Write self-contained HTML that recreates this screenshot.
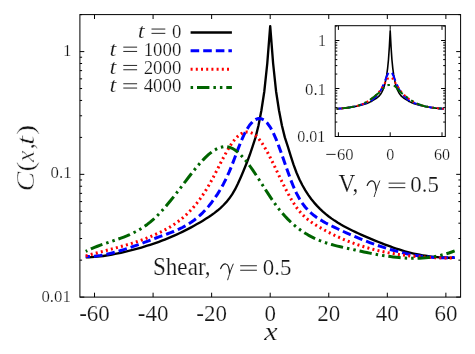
<!DOCTYPE html>
<html><head><meta charset="utf-8"><title>C(x,t)</title>
<style>
html,body{margin:0;padding:0;background:#fff;}
body{width:475px;height:354px;overflow:hidden;font-family:"Liberation Serif",serif;}
svg{display:block;will-change:transform}
text{font-family:"Liberation Serif",serif;fill:#161616;stroke:#fff;stroke-width:0.2px;}
.thin text{stroke-width:0.45px}
.i{font-style:italic}
</style></head><body>
<svg width="475" height="354" viewBox="0 0 475 354">
<rect width="475" height="354" fill="#fff"/>
<!-- main curves -->
<g fill="none" stroke-linejoin="round" stroke-linecap="butt" stroke-width="3">
<path d="M85.74,257.45 L88.66,257.34 L91.59,257.17 L94.52,256.95 L97.45,256.67 L100.38,256.34 L103.30,255.96 L106.23,255.53 L109.16,255.06 L112.09,254.54 L115.02,253.97 L117.94,253.38 L120.87,252.74 L123.80,252.08 L126.73,251.39 L129.66,250.68 L132.58,249.93 L135.51,249.16 L138.44,248.35 L141.37,247.51 L144.30,246.64 L147.22,245.74 L150.15,244.80 L153.08,243.83 L156.01,242.82 L158.94,241.77 L161.86,240.68 L164.79,239.55 L167.72,238.38 L170.65,237.16 L173.58,235.90 L176.50,234.60 L179.43,233.24 L182.36,231.84 L185.29,230.40 L188.22,228.90 L191.14,227.35 L194.07,225.75 L197.00,224.10 L199.93,222.40 L202.86,220.64 L205.78,218.83 L208.71,216.94 L211.64,214.95 L214.57,212.83 L217.50,210.54 L220.42,208.04 L223.35,205.27 L226.28,202.15 L229.21,198.57 L232.14,194.39 L235.06,189.44 L237.99,183.54 L240.92,176.97 L243.85,170.07 L246.78,162.81 L249.70,155.03 L252.63,146.49 L255.56,137.40 L258.49,125.50 L261.42,110.20 L264.34,91.20 L267.27,63.50 L270.20,26.20 L273.13,63.50 L276.06,91.20 L278.98,110.20 L281.91,125.50 L284.84,137.40 L287.77,146.26 L290.70,155.79 L293.62,164.92 L296.55,172.76 L299.48,179.46 L302.41,185.28 L305.34,190.39 L308.26,194.92 L311.19,198.96 L314.12,202.60 L317.05,205.90 L319.98,208.90 L322.90,211.64 L325.83,214.15 L328.76,216.47 L331.69,218.62 L334.62,220.61 L337.54,222.48 L340.47,224.24 L343.40,225.91 L346.33,227.50 L349.26,229.03 L352.18,230.49 L355.11,231.90 L358.04,233.27 L360.97,234.60 L363.90,235.89 L366.82,237.16 L369.75,238.39 L372.68,239.61 L375.61,240.80 L378.54,241.98 L381.46,243.14 L384.39,244.28 L387.32,245.39 L390.25,246.47 L393.18,247.52 L396.10,248.52 L399.03,249.48 L401.96,250.40 L404.89,251.26 L407.82,252.07 L410.74,252.82 L413.67,253.52 L416.60,254.17 L419.53,254.76 L422.46,255.29 L425.38,255.77 L428.31,256.19 L431.24,256.55 L434.17,256.87 L437.10,257.13 L440.02,257.35 L442.95,257.52 L445.88,257.65 L448.81,257.73 L451.74,257.78 L454.66,257.80" stroke="#000" stroke-width="2.35"/>
<path d="M85.74,256.62 L88.66,256.56 L91.59,256.39 L94.52,256.14 L97.45,255.80 L100.38,255.38 L103.30,254.88 L106.23,254.30 L109.16,253.66 L112.09,252.96 L115.02,252.20 L117.94,251.39 L120.87,250.52 L123.80,249.62 L126.73,248.67 L129.66,247.68 L132.58,246.67 L135.51,245.63 L138.44,244.57 L141.37,243.50 L144.30,242.41 L147.22,241.31 L150.15,240.22 L153.08,239.12 L156.01,238.03 L158.94,236.96 L161.86,235.89 L164.79,234.84 L167.72,233.77 L170.65,232.66 L173.58,231.50 L176.50,230.27 L179.43,228.94 L182.36,227.50 L185.29,225.92 L188.22,224.19 L191.14,222.29 L194.07,220.20 L197.00,217.89 L199.93,215.35 L202.86,212.55 L205.78,209.48 L208.71,206.12 L211.64,202.45 L214.57,198.45 L217.50,194.09 L220.42,189.35 L223.35,184.14 L226.28,178.36 L229.21,171.89 L232.14,164.67 L235.06,156.95 L237.99,149.15 L240.92,141.72 L243.85,135.08 L246.78,129.49 L249.70,125.02 L252.63,121.68 L255.56,119.51 L258.49,118.53 L261.42,118.77 L264.34,120.26 L267.27,123.03 L270.20,127.10 L273.13,132.50 L276.06,139.13 L278.98,146.66 L281.91,154.79 L284.84,163.21 L287.77,171.59 L290.70,179.62 L293.62,186.98 L296.55,193.39 L299.48,198.82 L302.41,203.40 L305.34,207.24 L308.26,210.47 L311.19,213.20 L314.12,215.56 L317.05,217.66 L319.98,219.58 L322.90,221.34 L325.83,222.98 L328.76,224.51 L331.69,225.97 L334.62,227.38 L337.54,228.77 L340.47,230.14 L343.40,231.49 L346.33,232.82 L349.26,234.12 L352.18,235.41 L355.11,236.66 L358.04,237.89 L360.97,239.10 L363.90,240.28 L366.82,241.43 L369.75,242.54 L372.68,243.63 L375.61,244.69 L378.54,245.71 L381.46,246.70 L384.39,247.66 L387.32,248.58 L390.25,249.46 L393.18,250.30 L396.10,251.11 L399.03,251.88 L401.96,252.60 L404.89,253.28 L407.82,253.92 L410.74,254.52 L413.67,255.07 L416.60,255.57 L419.53,256.03 L422.46,256.44 L425.38,256.80 L428.31,257.10 L431.24,257.36 L434.17,257.57 L437.10,257.72 L440.02,257.82 L442.95,257.86 L445.88,257.84 L448.81,257.77 L451.74,257.64 L454.66,257.45" stroke="#0000ff" stroke-dasharray="8.6 4" stroke-dashoffset="4.38"/>
<path d="M85.74,255.94 L88.66,255.11 L91.59,254.30 L94.52,253.51 L97.45,252.73 L100.38,251.96 L103.30,251.20 L106.23,250.44 L109.16,249.68 L112.09,248.91 L115.02,248.13 L117.94,247.34 L120.87,246.53 L123.80,245.71 L126.73,244.86 L129.66,243.98 L132.58,243.07 L135.51,242.12 L138.44,241.14 L141.37,240.11 L144.30,239.04 L147.22,237.92 L150.15,236.75 L153.08,235.51 L156.01,234.22 L158.94,232.87 L161.86,231.44 L164.79,229.93 L167.72,228.33 L170.65,226.61 L173.58,224.75 L176.50,222.74 L179.43,220.57 L182.36,218.20 L185.29,215.63 L188.22,212.84 L191.14,209.81 L194.07,206.52 L197.00,202.95 L199.93,199.09 L202.86,194.91 L205.78,190.41 L208.71,185.56 L211.64,180.34 L214.57,174.81 L217.50,169.11 L220.42,163.37 L223.35,157.73 L226.28,152.35 L229.21,147.35 L232.14,142.90 L235.06,139.12 L237.99,136.11 L240.92,133.89 L243.85,132.48 L246.78,131.91 L249.70,132.20 L252.63,133.37 L255.56,135.43 L258.49,138.41 L261.42,142.23 L264.34,146.78 L267.27,151.90 L270.20,157.48 L273.13,163.38 L276.06,169.45 L278.98,175.58 L281.91,181.62 L284.84,187.49 L287.77,193.09 L290.70,198.34 L293.62,203.18 L296.55,207.52 L299.48,211.30 L302.41,214.57 L305.34,217.39 L308.26,219.85 L311.19,222.02 L314.12,223.97 L317.05,225.78 L319.98,227.52 L322.90,229.19 L325.83,230.81 L328.76,232.36 L331.69,233.86 L334.62,235.29 L337.54,236.68 L340.47,238.00 L343.40,239.27 L346.33,240.49 L349.26,241.65 L352.18,242.77 L355.11,243.83 L358.04,244.85 L360.97,245.81 L363.90,246.73 L366.82,247.61 L369.75,248.44 L372.68,249.22 L375.61,249.97 L378.54,250.67 L381.46,251.33 L384.39,251.96 L387.32,252.54 L390.25,253.09 L393.18,253.60 L396.10,254.08 L399.03,254.52 L401.96,254.94 L404.89,255.32 L407.82,255.67 L410.74,255.99 L413.67,256.28 L416.60,256.54 L419.53,256.78 L422.46,256.99 L425.38,257.18 L428.31,257.35 L431.24,257.50 L434.17,257.62 L437.10,257.73 L440.02,257.82 L442.95,257.88 L445.88,257.94 L448.81,257.98 L451.74,258.00 L454.66,258.01" stroke="#ff0000" stroke-dasharray="2 3.2"/>
<path d="M85.74,251.39 L88.66,249.95 L91.59,248.62 L94.52,247.38 L97.45,246.23 L100.38,245.15 L103.30,244.11 L106.23,243.12 L109.16,242.14 L112.09,241.17 L115.02,240.19 L117.94,239.19 L120.87,238.14 L123.80,237.04 L126.73,235.87 L129.66,234.62 L132.58,233.26 L135.51,231.78 L138.44,230.18 L141.37,228.42 L144.30,226.51 L147.22,224.41 L150.15,222.12 L153.08,219.63 L156.01,216.91 L158.94,213.97 L161.86,210.84 L164.79,207.53 L167.72,204.08 L170.65,200.50 L173.58,196.82 L176.50,193.07 L179.43,189.27 L182.36,185.43 L185.29,181.60 L188.22,177.78 L191.14,174.01 L194.07,170.31 L197.00,166.73 L199.93,163.30 L202.86,160.08 L205.78,157.09 L208.71,154.40 L211.64,152.03 L214.57,150.04 L217.50,148.46 L220.42,147.34 L223.35,146.72 L226.28,146.65 L229.21,147.17 L232.14,148.30 L235.06,150.05 L237.99,152.33 L240.92,155.10 L243.85,158.30 L246.78,161.87 L249.70,165.75 L252.63,169.89 L255.56,174.23 L258.49,178.71 L261.42,183.27 L264.34,187.86 L267.27,192.42 L270.20,196.88 L273.13,201.20 L276.06,205.30 L278.98,209.15 L281.91,212.73 L284.84,216.05 L287.77,219.14 L290.70,222.00 L293.62,224.65 L296.55,227.09 L299.48,229.35 L302.41,231.42 L305.34,233.32 L308.26,235.07 L311.19,236.66 L314.12,238.12 L317.05,239.45 L319.98,240.66 L322.90,241.77 L325.83,242.78 L328.76,243.71 L331.69,244.56 L334.62,245.35 L337.54,246.09 L340.47,246.79 L343.40,247.46 L346.33,248.11 L349.26,248.75 L352.18,249.39 L355.11,250.02 L358.04,250.66 L360.97,251.29 L363.90,251.91 L366.82,252.52 L369.75,253.11 L372.68,253.69 L375.61,254.24 L378.54,254.77 L381.46,255.28 L384.39,255.76 L387.32,256.20 L390.25,256.61 L393.18,256.98 L396.10,257.32 L399.03,257.60 L401.96,257.85 L404.89,258.04 L407.82,258.18 L410.74,258.26 L413.67,258.29 L416.60,258.25 L419.53,258.16 L422.46,257.99 L425.38,257.76 L428.31,257.45 L431.24,257.07 L434.17,256.61 L437.10,256.06 L440.02,255.44 L442.95,254.72 L445.88,253.92 L448.81,253.03 L451.74,252.03 L454.66,250.94" stroke="#006400" stroke-dasharray="12.4 4 2.5 4 2.5 3.9" stroke-dashoffset="23.64"/>
</g>
<!-- main frame + ticks -->
<g fill="none" stroke="#000" stroke-width="1">
<rect x="79.9" y="14.6" width="380.70" height="282.50"/>
<path d="M94.52,297.1 v-4.4 M94.52,14.6 v4.4 M153.08,297.1 v-4.4 M153.08,14.6 v4.4 M211.64,297.1 v-4.4 M211.64,14.6 v4.4 M270.20,297.1 v-4.4 M270.20,14.6 v4.4 M328.76,297.1 v-4.4 M328.76,14.6 v4.4 M387.32,297.1 v-4.4 M387.32,14.6 v4.4 M445.88,297.1 v-4.4 M445.88,14.6 v4.4 M79.9,297.10 h4.4 M460.6,297.10 h-4.4 M79.9,260.15 h2.2 M460.6,260.15 h-2.2 M79.9,238.53 h2.2 M460.6,238.53 h-2.2 M79.9,223.20 h2.2 M460.6,223.20 h-2.2 M79.9,211.30 h2.2 M460.6,211.30 h-2.2 M79.9,201.58 h2.2 M460.6,201.58 h-2.2 M79.9,193.36 h2.2 M460.6,193.36 h-2.2 M79.9,186.25 h2.2 M460.6,186.25 h-2.2 M79.9,179.97 h2.2 M460.6,179.97 h-2.2 M79.9,174.35 h4.4 M460.6,174.35 h-4.4 M79.9,137.40 h2.2 M460.6,137.40 h-2.2 M79.9,115.78 h2.2 M460.6,115.78 h-2.2 M79.9,100.45 h2.2 M460.6,100.45 h-2.2 M79.9,88.55 h2.2 M460.6,88.55 h-2.2 M79.9,78.83 h2.2 M460.6,78.83 h-2.2 M79.9,70.61 h2.2 M460.6,70.61 h-2.2 M79.9,63.50 h2.2 M460.6,63.50 h-2.2 M79.9,57.22 h2.2 M460.6,57.22 h-2.2 M79.9,51.60 h4.4 M460.6,51.60 h-4.4 M79.9,14.65 h2.2 M460.6,14.65 h-2.2"/>
</g>
<!-- legend -->
<g fill="none" stroke-width="3">
<path d="M190.6,32.5 H231.9" stroke="#000" stroke-width="2.35"/>
<path d="M190.6,50.8 H231.9" stroke="#0000ff" stroke-dasharray="8.6 4"/>
<path d="M190.6,69.2 H231.9" stroke="#ff0000" stroke-dasharray="2 3.2"/>
<path d="M190.6,87.5 H231.9" stroke="#006400" stroke-dasharray="12.4 4 2.5 4 2.5 3.9" stroke-dashoffset="22.9"/>
</g>
<g>
<text x="137.70" y="37.50" font-size="21" textLength="6.90" lengthAdjust="spacingAndGlyphs" class="i">t</text><path d="M151.50,29.05 h13.80 M151.50,33.35 h13.80" stroke="#111" stroke-width="0.9" fill="none"/><text x="171.90" y="37.50" font-size="19.4" textLength="9.40" lengthAdjust="spacingAndGlyphs">0</text>
<text x="109.50" y="55.60" font-size="21" textLength="6.90" lengthAdjust="spacingAndGlyphs" class="i">t</text><path d="M123.30,47.15 h13.80 M123.30,51.45 h13.80" stroke="#111" stroke-width="0.9" fill="none"/><text x="143.70" y="55.60" font-size="19.4" textLength="37.60" lengthAdjust="spacingAndGlyphs">1000</text>
<text x="109.50" y="73.90" font-size="21" textLength="6.90" lengthAdjust="spacingAndGlyphs" class="i">t</text><path d="M123.30,65.45 h13.80 M123.30,69.75 h13.80" stroke="#111" stroke-width="0.9" fill="none"/><text x="143.70" y="73.90" font-size="19.4" textLength="37.60" lengthAdjust="spacingAndGlyphs">2000</text>
<text x="109.50" y="92.20" font-size="21" textLength="6.90" lengthAdjust="spacingAndGlyphs" class="i">t</text><path d="M123.30,83.75 h13.80 M123.30,88.05 h13.80" stroke="#111" stroke-width="0.9" fill="none"/><text x="143.70" y="92.20" font-size="19.4" textLength="37.60" lengthAdjust="spacingAndGlyphs">4000</text>
</g>
<!-- y tick labels -->
<g font-size="16" text-anchor="end">
<text x="71.2" y="56.0">1</text>
<text x="71.6" y="178.3" textLength="21" lengthAdjust="spacingAndGlyphs">0.1</text>
<text x="70.8" y="301.9" textLength="29.3" lengthAdjust="spacingAndGlyphs">0.01</text>
</g>
<!-- x tick labels -->
<g font-size="23" text-anchor="middle">
<text x="94.5" y="320.8">-60</text>
<text x="153.1" y="320.8">-40</text>
<text x="211.6" y="320.8">-20</text>
<text x="270.2" y="320.8">0</text>
<text x="328.8" y="320.8">20</text>
<text x="387.3" y="320.8">40</text>
<text x="445.9" y="320.8">60</text>
</g>
<text x="264.30" y="340.30" font-size="25" textLength="13.40" lengthAdjust="spacingAndGlyphs" class="i">x</text>
<g class="thin" transform="translate(33.8,188.6) rotate(-90)"><text x="-3.00" y="0.00" font-size="25.5" textLength="19.70" lengthAdjust="spacingAndGlyphs" class="i">C</text><text x="16.90" y="0.00" font-size="25.5" textLength="10.40" lengthAdjust="spacingAndGlyphs">(</text><text x="26.60" y="0.00" font-size="25" textLength="11.50" lengthAdjust="spacingAndGlyphs" class="i">x</text><text x="39.00" y="0.00" font-size="25">,</text><text x="43.60" y="0.00" font-size="25" textLength="9.40" lengthAdjust="spacingAndGlyphs" class="i">t</text><text x="53.70" y="0.00" font-size="25.5" textLength="10.40" lengthAdjust="spacingAndGlyphs">)</text></g>
<text x="152.90" y="274.80" font-size="24.5" textLength="57.60" lengthAdjust="spacingAndGlyphs">Shear,</text><g transform="translate(220.70,274.80)" fill="none" stroke="#1c1c1c" stroke-linecap="round"><path d="M0,-6.2 C1.1,-9 3.0,-10.9 5.0,-10.8 C7.4,-10.7 8.6,-6.6 8.9,-1.8" stroke-width="1.25"/><path d="M12.5,-10.7 C10.8,-6.6 9.4,-3.1 8.6,-0.1 C7.8,2.4 7.3,3.9 7.0,5.0" stroke-width="0.95"/></g><path d="M240.20,265.75 h16.70 M240.20,270.25 h16.70" stroke="#111" stroke-width="0.9" fill="none"/><text x="262.80" y="274.80" font-size="23.4" textLength="28.60" lengthAdjust="spacingAndGlyphs">0.5</text><text x="338.60" y="191.60" font-size="24.5" textLength="19.60" lengthAdjust="spacingAndGlyphs">V,</text><g transform="translate(367.20,191.60)" fill="none" stroke="#1c1c1c" stroke-linecap="round"><path d="M0,-6.2 C1.1,-9 3.0,-10.9 5.0,-10.8 C7.4,-10.7 8.6,-6.6 8.9,-1.8" stroke-width="1.25"/><path d="M12.5,-10.7 C10.8,-6.6 9.4,-3.1 8.6,-0.1 C7.8,2.4 7.3,3.9 7.0,5.0" stroke-width="0.95"/></g><path d="M388.60,183.15 h16.70 M388.60,187.65 h16.70" stroke="#111" stroke-width="0.9" fill="none"/><text x="410.30" y="191.60" font-size="23.4" textLength="28.60" lengthAdjust="spacingAndGlyphs">0.5</text>
<!-- inset -->
<rect x="335.2" y="25.7" width="110.10" height="110.80" fill="#fff"/>
<g fill="none" stroke-linejoin="round" stroke-width="2">
<path d="M336.68,108.76 L337.54,108.71 L338.40,108.65 L339.27,108.59 L340.13,108.53 L340.99,108.45 L341.86,108.38 L342.72,108.30 L343.58,108.21 L344.45,108.12 L345.31,108.03 L346.17,107.94 L347.03,107.83 L347.90,107.72 L348.76,107.59 L349.62,107.46 L350.49,107.32 L351.35,107.17 L352.21,107.02 L353.08,106.87 L353.94,106.71 L354.80,106.54 L355.67,106.37 L356.53,106.20 L357.39,106.02 L358.26,105.83 L359.12,105.64 L359.98,105.44 L360.85,105.23 L361.71,105.00 L362.57,104.77 L363.44,104.53 L364.30,104.28 L365.16,104.01 L366.03,103.72 L366.89,103.40 L367.75,103.06 L368.62,102.69 L369.48,102.29 L370.34,101.88 L371.21,101.44 L372.07,100.94 L372.93,100.41 L373.80,99.86 L374.66,99.31 L375.52,98.77 L376.39,98.22 L377.25,97.63 L378.11,96.94 L378.98,96.12 L379.84,95.14 L380.70,93.97 L381.57,92.60 L382.43,90.99 L383.29,89.11 L384.16,86.58 L385.02,83.38 L385.88,79.61 L386.75,74.66 L387.61,68.32 L388.47,59.73 L389.34,47.05 L390.20,30.90 L391.06,47.05 L391.93,59.73 L392.79,68.32 L393.65,74.66 L394.52,79.61 L395.38,83.38 L396.24,86.58 L397.11,89.11 L397.97,90.99 L398.83,92.60 L399.70,93.97 L400.56,95.14 L401.42,96.12 L402.29,96.94 L403.15,97.63 L404.01,98.22 L404.88,98.77 L405.74,99.31 L406.60,99.86 L407.47,100.41 L408.33,100.94 L409.19,101.44 L410.06,101.88 L410.92,102.29 L411.78,102.69 L412.65,103.06 L413.51,103.40 L414.37,103.72 L415.24,104.01 L416.10,104.28 L416.96,104.53 L417.83,104.77 L418.69,105.00 L419.55,105.23 L420.42,105.44 L421.28,105.64 L422.14,105.83 L423.01,106.02 L423.87,106.20 L424.73,106.37 L425.60,106.54 L426.46,106.71 L427.32,106.87 L428.19,107.02 L429.05,107.17 L429.91,107.32 L430.78,107.46 L431.64,107.59 L432.50,107.72 L433.37,107.83 L434.23,107.94 L435.09,108.03 L435.95,108.12 L436.82,108.21 L437.68,108.30 L438.54,108.38 L439.41,108.45 L440.27,108.53 L441.13,108.59 L442.00,108.65 L442.86,108.71 L443.72,108.76" stroke="#000" stroke-width="1.6"/>
<path d="M336.68,108.76 L337.54,108.72 L338.40,108.66 L339.27,108.60 L340.13,108.54 L340.99,108.46 L341.86,108.39 L342.72,108.30 L343.58,108.22 L344.45,108.13 L345.31,108.03 L346.17,107.93 L347.03,107.83 L347.90,107.71 L348.76,107.58 L349.62,107.44 L350.49,107.29 L351.35,107.13 L352.21,106.97 L353.08,106.79 L353.94,106.62 L354.80,106.43 L355.67,106.24 L356.53,106.03 L357.39,105.81 L358.26,105.58 L359.12,105.33 L359.98,105.08 L360.85,104.81 L361.71,104.53 L362.57,104.25 L363.44,103.95 L364.30,103.65 L365.16,103.33 L366.03,103.00 L366.89,102.65 L367.75,102.28 L368.62,101.89 L369.48,101.47 L370.34,101.01 L371.21,100.52 L372.07,99.93 L372.93,99.27 L373.80,98.55 L374.66,97.79 L375.52,96.99 L376.39,96.11 L377.25,95.14 L378.11,94.05 L378.98,92.83 L379.84,91.54 L380.70,90.17 L381.57,88.66 L382.43,86.93 L383.29,85.01 L384.16,82.93 L385.02,80.75 L385.88,78.50 L386.75,76.40 L387.61,74.47 L388.47,73.03 L389.34,72.21 L390.20,71.80 L391.06,72.21 L391.93,73.03 L392.79,74.47 L393.65,76.40 L394.52,78.50 L395.38,80.75 L396.24,82.93 L397.11,85.01 L397.97,86.93 L398.83,88.66 L399.70,90.17 L400.56,91.54 L401.42,92.83 L402.29,94.05 L403.15,95.14 L404.01,96.11 L404.88,96.99 L405.74,97.79 L406.60,98.55 L407.47,99.27 L408.33,99.93 L409.19,100.52 L410.06,101.01 L410.92,101.47 L411.78,101.89 L412.65,102.28 L413.51,102.65 L414.37,103.00 L415.24,103.33 L416.10,103.65 L416.96,103.95 L417.83,104.25 L418.69,104.53 L419.55,104.81 L420.42,105.08 L421.28,105.33 L422.14,105.58 L423.01,105.81 L423.87,106.03 L424.73,106.24 L425.60,106.43 L426.46,106.62 L427.32,106.79 L428.19,106.97 L429.05,107.13 L429.91,107.29 L430.78,107.44 L431.64,107.58 L432.50,107.71 L433.37,107.83 L434.23,107.93 L435.09,108.03 L435.95,108.13 L436.82,108.22 L437.68,108.30 L438.54,108.39 L439.41,108.46 L440.27,108.54 L441.13,108.60 L442.00,108.66 L442.86,108.72 L443.72,108.76" stroke="#0000ff" stroke-dasharray="8.6 4" stroke-dashoffset="2.64"/>
<path d="M336.68,108.76 L337.54,108.72 L338.40,108.66 L339.27,108.60 L340.13,108.54 L340.99,108.46 L341.86,108.39 L342.72,108.30 L343.58,108.22 L344.45,108.13 L345.31,108.03 L346.17,107.93 L347.03,107.83 L347.90,107.71 L348.76,107.58 L349.62,107.44 L350.49,107.29 L351.35,107.14 L352.21,106.97 L353.08,106.80 L353.94,106.62 L354.80,106.43 L355.67,106.23 L356.53,106.02 L357.39,105.80 L358.26,105.55 L359.12,105.30 L359.98,105.02 L360.85,104.73 L361.71,104.42 L362.57,104.09 L363.44,103.74 L364.30,103.34 L365.16,102.87 L366.03,102.35 L366.89,101.81 L367.75,101.24 L368.62,100.68 L369.48,100.12 L370.34,99.56 L371.21,98.99 L372.07,98.39 L372.93,97.75 L373.80,97.06 L374.66,96.32 L375.52,95.54 L376.39,94.71 L377.25,93.83 L378.11,92.90 L378.98,91.90 L379.84,90.85 L380.70,89.70 L381.57,88.45 L382.43,87.06 L383.29,85.61 L384.16,84.19 L385.02,82.77 L385.88,81.26 L386.75,79.94 L387.61,78.93 L388.47,78.21 L389.34,77.80 L390.20,77.60 L391.06,77.80 L391.93,78.21 L392.79,78.93 L393.65,79.94 L394.52,81.26 L395.38,82.77 L396.24,84.19 L397.11,85.61 L397.97,87.06 L398.83,88.45 L399.70,89.70 L400.56,90.85 L401.42,91.90 L402.29,92.90 L403.15,93.83 L404.01,94.71 L404.88,95.54 L405.74,96.32 L406.60,97.06 L407.47,97.75 L408.33,98.39 L409.19,98.99 L410.06,99.56 L410.92,100.12 L411.78,100.68 L412.65,101.24 L413.51,101.81 L414.37,102.35 L415.24,102.87 L416.10,103.34 L416.96,103.74 L417.83,104.09 L418.69,104.42 L419.55,104.73 L420.42,105.02 L421.28,105.30 L422.14,105.55 L423.01,105.80 L423.87,106.02 L424.73,106.23 L425.60,106.43 L426.46,106.62 L427.32,106.80 L428.19,106.97 L429.05,107.14 L429.91,107.29 L430.78,107.44 L431.64,107.58 L432.50,107.71 L433.37,107.83 L434.23,107.93 L435.09,108.03 L435.95,108.13 L436.82,108.22 L437.68,108.30 L438.54,108.39 L439.41,108.46 L440.27,108.54 L441.13,108.60 L442.00,108.66 L442.86,108.72 L443.72,108.76" stroke="#ff0000" stroke-dasharray="2 3.2" stroke-dashoffset="0.40"/>
<path d="M336.68,108.76 L337.54,108.72 L338.40,108.66 L339.27,108.60 L340.13,108.54 L340.99,108.46 L341.86,108.39 L342.72,108.30 L343.58,108.22 L344.45,108.13 L345.31,108.03 L346.17,107.93 L347.03,107.83 L347.90,107.71 L348.76,107.58 L349.62,107.44 L350.49,107.30 L351.35,107.14 L352.21,106.98 L353.08,106.80 L353.94,106.62 L354.80,106.43 L355.67,106.22 L356.53,105.99 L357.39,105.73 L358.26,105.46 L359.12,105.18 L359.98,104.88 L360.85,104.56 L361.71,104.22 L362.57,103.85 L363.44,103.47 L364.30,103.06 L365.16,102.63 L366.03,102.19 L366.89,101.72 L367.75,101.22 L368.62,100.69 L369.48,100.13 L370.34,99.54 L371.21,98.94 L372.07,98.29 L372.93,97.61 L373.80,96.92 L374.66,96.23 L375.52,95.53 L376.39,94.82 L377.25,94.14 L378.11,93.51 L378.98,92.88 L379.84,92.14 L380.70,91.32 L381.57,90.44 L382.43,89.44 L383.29,88.41 L384.16,87.43 L385.02,86.58 L385.88,85.93 L386.75,85.48 L387.61,85.24 L388.47,85.10 L389.34,85.03 L390.20,85.00 L391.06,85.03 L391.93,85.10 L392.79,85.24 L393.65,85.48 L394.52,85.93 L395.38,86.58 L396.24,87.43 L397.11,88.41 L397.97,89.44 L398.83,90.44 L399.70,91.32 L400.56,92.14 L401.42,92.88 L402.29,93.51 L403.15,94.14 L404.01,94.82 L404.88,95.53 L405.74,96.23 L406.60,96.92 L407.47,97.61 L408.33,98.29 L409.19,98.94 L410.06,99.54 L410.92,100.13 L411.78,100.69 L412.65,101.22 L413.51,101.72 L414.37,102.19 L415.24,102.63 L416.10,103.06 L416.96,103.47 L417.83,103.85 L418.69,104.22 L419.55,104.56 L420.42,104.88 L421.28,105.18 L422.14,105.46 L423.01,105.73 L423.87,105.99 L424.73,106.22 L425.60,106.43 L426.46,106.62 L427.32,106.80 L428.19,106.98 L429.05,107.14 L429.91,107.30 L430.78,107.44 L431.64,107.58 L432.50,107.71 L433.37,107.83 L434.23,107.93 L435.09,108.03 L435.95,108.13 L436.82,108.22 L437.68,108.30 L438.54,108.39 L439.41,108.46 L440.27,108.54 L441.13,108.60 L442.00,108.66 L442.86,108.72 L443.72,108.76" stroke="#006400" stroke-dasharray="12.4 4 2.5 4 2.5 3.9" stroke-dashoffset="23.70"/>
</g>
<g fill="none" stroke="#000" stroke-width="1">
<rect x="335.2" y="25.7" width="110.10" height="110.80"/>
<path d="M338.40,136.5 v-4.2 M338.40,25.7 v4.2 M390.20,136.5 v-4.2 M390.20,25.7 v4.2 M442.00,136.5 v-4.2 M442.00,25.7 v4.2 M335.2,136.50 h4.2 M445.3,136.50 h-4.2 M335.2,122.05 h2.1 M445.3,122.05 h-2.1 M335.2,113.60 h2.1 M445.3,113.60 h-2.1 M335.2,107.60 h2.1 M445.3,107.60 h-2.1 M335.2,102.95 h2.1 M445.3,102.95 h-2.1 M335.2,99.15 h2.1 M445.3,99.15 h-2.1 M335.2,95.94 h2.1 M445.3,95.94 h-2.1 M335.2,93.15 h2.1 M445.3,93.15 h-2.1 M335.2,90.70 h2.1 M445.3,90.70 h-2.1 M335.2,88.50 h4.2 M445.3,88.50 h-4.2 M335.2,74.05 h2.1 M445.3,74.05 h-2.1 M335.2,65.60 h2.1 M445.3,65.60 h-2.1 M335.2,59.60 h2.1 M445.3,59.60 h-2.1 M335.2,54.95 h2.1 M445.3,54.95 h-2.1 M335.2,51.15 h2.1 M445.3,51.15 h-2.1 M335.2,47.94 h2.1 M445.3,47.94 h-2.1 M335.2,45.15 h2.1 M445.3,45.15 h-2.1 M335.2,42.70 h2.1 M445.3,42.70 h-2.1 M335.2,40.50 h4.2 M445.3,40.50 h-4.2 M335.2,26.05 h2.1 M445.3,26.05 h-2.1"/>
</g>
<g font-size="16" text-anchor="end">
<text x="326.0" y="45.9">1</text>
<text x="326.0" y="94.5" textLength="21" lengthAdjust="spacingAndGlyphs">0.1</text>
<text x="325.2" y="142.1">0.01</text>
</g>
<g font-size="16" text-anchor="middle">
<path d="M326.3,154.4 h9.3" stroke="#111" stroke-width="0.9" fill="none"/><text x="337.00" y="159.60" font-size="16" text-anchor="start" textLength="16.60" lengthAdjust="spacingAndGlyphs">60</text>
<text x="390.2" y="159.5">0</text>
<text x="442.0" y="159.5">60</text>
</g>
</svg>
</body></html>
